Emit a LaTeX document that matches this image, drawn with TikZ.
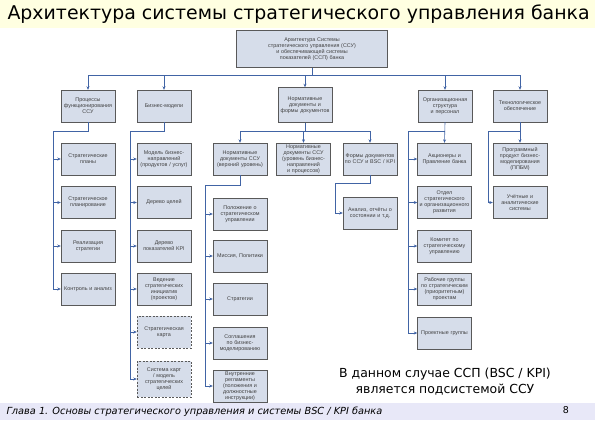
\documentclass[tikz,border=0pt]{standalone}
\usepackage{fontspec}
\setmainfont{DejaVu Sans}
\newfontfamily\boxfont{Liberation Sans}
\usetikzlibrary{arrows.meta,shadows}
\definecolor{boxfill}{RGB}{214,221,234}
\definecolor{linkblue}{RGB}{65,100,165}
\definecolor{titlebg}{RGB}{255,255,225}
\definecolor{footbg}{RGB}{232,232,248}
\tikzset{
	box/.style={draw=gray!70!black, fill=boxfill, minimum width=54bp, minimum height=32bp, text width=52bp, inner sep=1bp, align=center, font=\boxfont\fontsize{5.4}{6}\selectfont, text=black!75},
	block/.style={box, drop shadow={shadow xshift=0.9bp, shadow yshift=-0.9bp, fill=gray!55!black, opacity=1}},
	dblock/.style={box, dash pattern=on 2bp off 1.5bp},
	link/.style={draw=linkblue, line width=0.6bp},
	arr/.style={link, -{Stealth[length=3.5bp,width=3bp]}}
}

\begin{document}
\begin{tikzpicture}[x=1bp,y=-1bp]
	\fill[titlebg] (0,0) rectangle (595,28);
	\fill[footbg] (0,403) rectangle (595,420);
	\useasboundingbox (0,0) rectangle (595,420);
	\node[anchor=west, font=\fontsize{19}{22}\selectfont] (title) at (4,14) {Архитектура системы стратегического управления банка};

	\node[block, minimum width=151bp, minimum height=37bp, text width=140bp] (arch) at (312,49) {Архитектура Системы\\стратегического управления (ССУ)\\и обеспечивающей системы\\показателей (ССП) банка};

	\node[block] (proc) at (88,106) {Процессы функционирования ССУ};
	\node[block] (bmod) at (164,106) {Бизнес-модели};
	\node[block, minimum height=35bp] (norm) at (305,105) {Нормативные документы и формы документов};
	\node[block] (org) at (445,106) {Организационная структура и персонал};
	\node[block] (tech) at (520,106) {Технологическое обеспечение};

	\node[block] (proc1) at (88,159) {Стратегические планы};
	\node[block] (proc2) at (88,202.5) {Стратегическое планирование};
	\node[block] (proc3) at (88,246) {Реализация стратегии};
	\node[block] (proc4) at (88,289) {Контроль и анализ};

	\node[block] (bm1) at (164,159) {Модель бизнес-направлений (продуктов / услуг)};
	\node[block] (bm2) at (164,202.5) {Дерево целей};
	\node[block] (bm3) at (164,246) {Дерево показателей KPI};
	\node[block] (bm4) at (164,289) {Ведение стратегических инициатив (проектов)};
	\node[dblock] (bm5) at (164,332) {Стратегическая карта};
	\node[dblock, minimum height=36bp] (bm6) at (164,379) {Система карт / модель стратегических целей};

	\node[block] (nd1) at (240,159) {Нормативные документы ССУ (верхний уровень)};
	\node[block] (nd2) at (303.5,159) {Нормативные документы ССУ (уровень бизнес-направлений и процессов)};
	\node[block] (nd3) at (370,159) {Формы документов по ССУ и BSC / KPI};

	\node[block] (doc1) at (240,214) {Положение о стратегическом управлении};
	\node[block] (doc2) at (240,256) {Миссия, Политики};
	\node[block] (doc3) at (240,299) {Стратегии};
	\node[block] (doc4) at (240,343) {Соглашения по бизнес-моделированию};
	\node[block] (doc5) at (240,386) {Внутренние регламенты (положения и должностные инструкции)};
	\node[block] (rep) at (370,213) {Анализ, отчёты о состоянии и т.д.};

	\node[block] (org1) at (444.5,159) {Акционеры и Правление банка};
	\node[block] (org2) at (444.5,202.5) {Отдел стратегического и организационного развития};
	\node[block] (org3) at (444.5,246) {Комитет по стратегическому управлению};
	\node[block] (org4) at (444.5,289) {Рабочие группы по стратегическим (приоритетным) проектам};
	\node[block] (org5) at (444.5,333) {Проектные группы};

	\node[block] (tech1) at (520,159) {Программный продукт бизнес-моделирования (ППБМ)};
	\node[block] (tech2) at (520,202.5) {Учётные и аналитические системы};

	\coordinate (bus) at (0,75);
	\draw[link] (arch.south) -- (arch.south |- bus);
	\draw[link] (proc.north |- bus) -- (tech.north |- bus);
	\foreach \n in {proc,bmod,norm,org,tech}
		\draw[arr] (\n.north |- bus) -- (\n.north);

	\coordinate (k1) at (53,131);
	\draw[link] (proc.south) |- (k1) -- (k1 |- proc4.west);
	\foreach \n in {proc1,proc2,proc3,proc4}
		\draw[arr] (k1 |- \n.west) -- (\n.west);

	\coordinate (k2) at (130,131);
	\draw[link] (bmod.south) |- (k2) -- (k2 |- bm6.west);
	\foreach \n in {bm1,bm2,bm3,bm4,bm5,bm6}
		\draw[arr] (k2 |- \n.west) -- (\n.west);

	\coordinate (k3) at (0,131);
	\draw[link] (norm.south) -- (norm.south |- k3);
	\draw[link] (nd1.north |- k3) -- (nd3.north |- k3);
	\foreach \n in {nd1,nd2,nd3}
		\draw[arr] (\n.north |- k3) -- (\n.north);

	\coordinate (k4) at (205,185);
	\draw[link] (nd1.south) |- (k4) -- (k4 |- doc5.west);
	\foreach \n in {doc1,doc2,doc3,doc4,doc5}
		\draw[arr] (k4 |- \n.west) -- (\n.west);

	\coordinate (k5) at (335,183);
	\draw[link] (nd3.south) |- (k5);
	\draw[arr] (k5) |- (rep.west);

	\draw[arr] (org.south) -- (org1.north);
	\coordinate (k6) at (408,131);
	\draw[link] (org.south |- k6) -- (k6) -- (k6 |- org5.west);
	\foreach \n in {org1,org2,org3,org4,org5}
		\draw[arr] (k6 |- \n.west) -- (\n.west);

	\draw[arr] (tech.south) -- (tech1.north);
	\coordinate (k7) at (488,131);
	\draw[link] (tech.south |- k7) -- (k7);
	\draw[arr] (k7) |- (tech2.west);

	\node[align=center, font=\fontsize{12.5}{16}\selectfont] (note) at (445,382) {В данном случае ССП (BSC / KPI)\\является подсистемой ССУ};
	\node[anchor=west, font=\itshape\fontsize{9.8}{11}\selectfont] (foot) at (3,412) {Глава 1. Основы стратегического управления и системы BSC / KPI банка};
	\node[font=\fontsize{9.5}{10}\selectfont] (page) at (566,410) {8};
\end{tikzpicture}
\end{document}
